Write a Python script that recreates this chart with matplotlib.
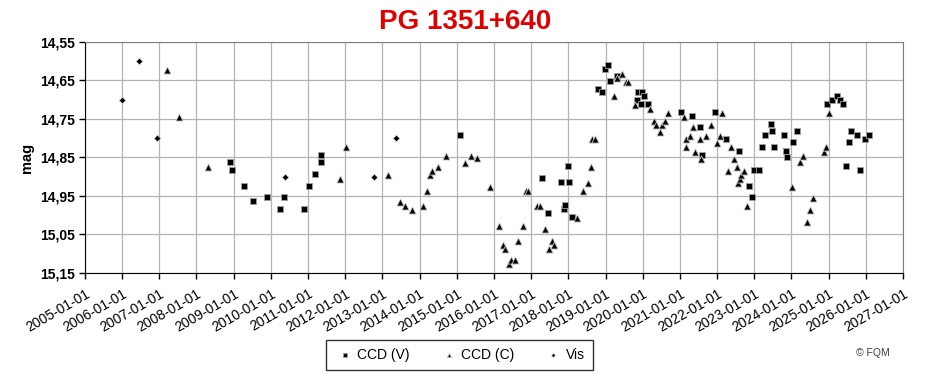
import pandas as pd
import numpy as np
import matplotlib.pyplot as plt
import matplotlib.dates as mdates
from matplotlib.ticker import FuncFormatter

plt.rcParams['font.family'] = ['Liberation Sans', 'DejaVu Sans']

# CCD (V) observations
v_dates = ['2008-11-25', '2008-12-14', '2009-04-08', '2009-07-05', '2009-11-28', '2010-04-05',
           '2010-05-05', '2010-11-18', '2011-01-08', '2011-03-14', '2011-05-08', '2011-05-10',
           '2015-02-03', '2017-04-12', '2017-06-14', '2017-10-16', '2017-11-14', '2017-11-28',
           '2017-12-28', '2018-01-08', '2018-02-10', '2018-10-20', '2018-11-28', '2018-12-24',
           '2019-01-26', '2019-02-14', '2019-04-20', '2019-11-10', '2019-11-14', '2019-12-14',
           '2019-12-24', '2020-01-18', '2020-02-20', '2021-01-08', '2021-05-01', '2021-07-16',
           '2021-08-04', '2021-12-10', '2022-03-28', '2022-08-04', '2022-11-10', '2022-12-06',
           '2023-01-01', '2023-02-18', '2023-03-14', '2023-04-16', '2023-06-10', '2023-06-25',
           '2023-07-14', '2023-10-16', '2023-11-08', '2023-11-14', '2024-01-15', '2024-02-20',
           '2024-12-16', '2025-02-03', '2025-03-22', '2025-04-24', '2025-05-22', '2025-06-22',
           '2025-07-20', '2025-08-08', '2025-10-04', '2025-11-06', '2025-12-24', '2026-02-03']
v_mag = [14.862, 14.882, 14.923, 14.963, 14.952, 14.984,
         14.952, 14.984, 14.923, 14.892, 14.862, 14.843,
         14.792, 14.902, 14.993, 14.913, 14.984, 14.973,
         14.872, 14.913, 15.004, 14.671, 14.679, 14.620,
         14.609, 14.651, 14.638, 14.700, 14.679, 14.710,
         14.679, 14.689, 14.710, 14.731, 14.741, 14.770,
         14.843, 14.731, 14.801, 14.832, 14.923, 14.952,
         14.882, 14.882, 14.822, 14.791, 14.762, 14.780,
         14.822, 14.791, 14.832, 14.850, 14.811, 14.780,
         14.710, 14.700, 14.689, 14.700, 14.710, 14.871,
         14.811, 14.780, 14.791, 14.882, 14.801, 14.791]

# CCD (C) observations
c_dates = ['2007-03-18', '2007-07-12', '2008-04-22', '2011-11-10', '2012-01-12', '2013-02-25',
           '2013-06-18', '2013-08-12', '2013-10-16', '2014-02-03', '2014-03-15', '2014-04-12',
           '2014-05-05', '2014-06-28', '2014-09-16', '2015-03-22', '2015-05-20', '2015-07-16',
           '2015-11-20', '2016-02-18', '2016-03-25', '2016-04-20', '2016-05-26', '2016-06-21',
           '2016-07-27', '2016-08-25', '2016-10-12', '2016-11-10', '2016-12-05', '2017-02-28',
           '2017-03-28', '2017-05-15', '2017-06-28', '2017-07-20', '2017-08-12', '2018-03-25',
           '2018-05-22', '2018-07-12', '2018-08-10', '2018-08-22', '2018-09-16', '2019-03-28',
           '2019-04-22', '2019-06-10', '2019-07-20', '2019-08-12', '2019-10-20', '2020-03-14',
           '2020-04-22', '2020-05-10', '2020-06-18', '2020-07-12', '2020-08-08', '2020-09-10',
           '2021-02-10', '2021-02-28', '2021-03-03', '2021-04-12', '2021-05-05', '2021-05-30',
           '2021-07-20', '2021-07-30', '2021-09-10', '2021-11-02', '2021-12-28', '2022-01-30',
           '2022-02-20', '2022-04-16', '2022-05-15', '2022-06-14', '2022-07-16', '2022-07-26',
           '2022-08-14', '2022-08-22', '2022-09-20', '2022-10-20', '2024-01-08', '2024-03-25',
           '2024-04-22', '2024-06-02', '2024-07-01', '2024-08-04', '2024-11-16', '2024-12-02',
           '2025-01-05']
c_mag = [14.622, 14.745, 14.874, 14.905, 14.824, 14.895,
         14.965, 14.975, 14.986, 14.975, 14.936, 14.895,
         14.884, 14.874, 14.845, 14.864, 14.845, 14.852,
         14.926, 15.028, 15.077, 15.088, 15.127, 15.115,
         15.115, 15.066, 15.028, 14.936, 14.936, 14.975,
         14.975, 15.036, 15.088, 15.066, 15.077, 15.006,
         14.936, 14.915, 14.874, 14.803, 14.803, 14.691,
         14.643, 14.633, 14.653, 14.653, 14.713, 14.724,
         14.754, 14.766, 14.784, 14.766, 14.754, 14.734,
         14.745, 14.803, 14.824, 14.794, 14.772, 14.835,
         14.803, 14.853, 14.794, 14.766, 14.813, 14.794,
         14.734, 14.884, 14.824, 14.853, 14.874, 14.915,
         14.906, 14.895, 14.884, 14.975, 14.926, 14.863,
         14.845, 15.017, 14.986, 14.954, 14.835, 14.824,
         14.734]

# Visual estimates
vis_dates = ['2005-12-28', '2006-06-20', '2006-12-12', '2010-05-18', '2012-10-05', '2013-05-18']
vis_mag = [14.70, 14.60, 14.80, 14.90, 14.90, 14.80]

y_ticks = [14.55, 14.65, 14.75, 14.85, 14.95, 15.05, 15.15]
x_years = list(range(2005, 2028))

fig = plt.figure(figsize=(9.3, 3.8), dpi=100)
ax = fig.add_axes([0.0914, 0.2816, 0.8796, 0.6079])

ax.scatter(pd.to_datetime(v_dates), v_mag, marker='s', s=24, color='black',
           edgecolors='#a0a0a0', linewidths=0.6, label='CCD (V)', zorder=3)
ax.scatter(pd.to_datetime(c_dates), c_mag, marker='^', s=26, color='black',
           edgecolors='#c8c8c8', linewidths=0.6, label='CCD (C)', zorder=3)
ax.scatter(pd.to_datetime(vis_dates), vis_mag, marker='D', s=11, color='black',
           edgecolors='#c8c8c8', linewidths=0.4, label='Vis', zorder=3)

ax.set_xlim(pd.Timestamp('2005-01-01'), pd.Timestamp('2027-01-01'))
ax.set_xticks([pd.Timestamp(f'{y}-01-01') for y in x_years])
ax.xaxis.set_major_formatter(mdates.DateFormatter('%Y-%m-%d'))
plt.setp(ax.get_xticklabels(), rotation=30, ha='right', rotation_mode='anchor', fontsize=10)

ax.set_ylim(15.15, 14.55)
ax.set_yticks(y_ticks)
ax.yaxis.set_major_formatter(FuncFormatter(lambda v, p: f'{v:.2f}'.replace('.', ',')))
for lbl in ax.get_yticklabels():
    lbl.set_fontsize(10)
    lbl.set_fontweight('bold')
ax.set_ylabel('mag', fontsize=10.5, fontweight='bold', labelpad=4)

ax.grid(True, color='#b4b4b4', linewidth=0.9)
ax.set_axisbelow(True)
ax.tick_params(axis='both', direction='out', length=4, width=1, color='black')
ax.tick_params(axis='x', pad=6)
ax.spines['left'].set_color('black')
ax.spines['bottom'].set_color('black')
ax.spines['top'].set_color('#808080')
ax.spines['right'].set_color('#808080')

fig.text(0.5, 0.942, 'PG 1351+640', color='#e00000', fontsize=20, fontweight='bold',
         ha='center', va='center')

leg = fig.legend(loc='center', bbox_to_anchor=(0.494, 0.066), ncol=3, fontsize=10,
                 frameon=True, fancybox=False, edgecolor='black', handletextpad=0.1,
                 columnspacing=2.0, markerscale=0.6, borderpad=0.6, handlelength=1.6)
leg.get_frame().set_linewidth(1)

fig.text(0.957, 0.072, '© FQM', fontsize=7.5, color='#404040', ha='right', va='center')

fig.savefig('out.png', dpi=100)
